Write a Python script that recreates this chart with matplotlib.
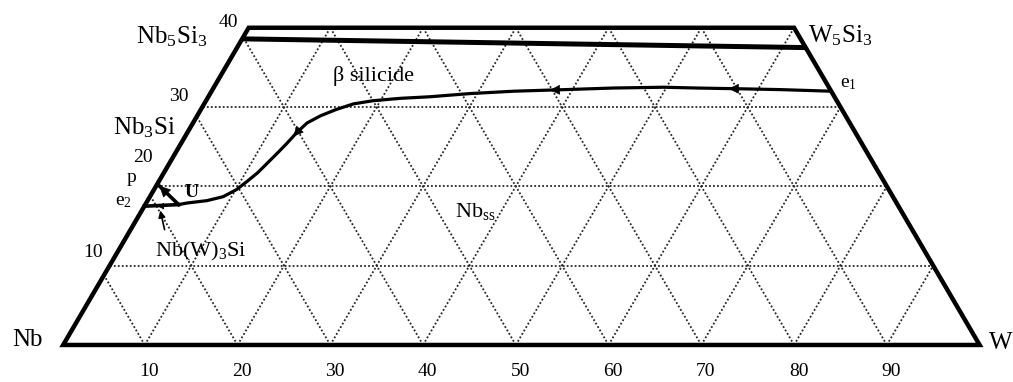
import matplotlib.pyplot as plt
from matplotlib.patches import Polygon
import numpy as np

plt.rcParams['font.family'] = ['Liberation Serif', 'DejaVu Serif']
plt.rcParams['mathtext.fontset'] = 'custom'
plt.rcParams['mathtext.rm'] = 'Liberation Serif'
plt.rcParams['mathtext.it'] = 'Liberation Serif:italic'
plt.rcParams['mathtext.default'] = 'regular'

# liquidus valley from e1 down to the U point (at.% W, at.% Si)
valley_w = [68.0, 62.4, 58.2, 53.3, 49.7, 44.3, 39.2, 33.8, 29.2, 25.1, 22.0,
            19.2, 17.3, 15.8, 14.5, 13.5, 13.0, 12.6, 12.2, 11.7, 11.3, 10.7,
            10.1, 9.1, 7.6, 5.6, 4.8]
valley_si = [32.0, 32.2, 32.3, 32.4, 32.5, 32.4, 32.2, 32.0, 31.7, 31.3, 31.1,
             30.8, 30.4, 29.7, 28.9, 28.0, 26.8, 25.4, 24.2, 22.8, 21.7, 20.6,
             19.6, 18.7, 18.2, 17.9, 17.7]
valley_arrows = [2, 6, 16]  # segments carrying a direction arrow

# Nb5Si3 - W5Si3 two phase line
tie_w = [1.2, 62.5]
tie_si = [38.6, 37.5]

# invariant points on the Nb-Si side
p_pt = (1.2, 20.3)
e2_pt = (1.2, 17.5)
u_pt = (4.8, 17.7)

edge_w = 1.2      # Nb-Si edge as drawn
si_top = 40
grid_steps = [10, 20, 30, 40, 50, 60, 70, 80, 90]
si_grid = [10, 20, 30]
w_ticks = [10, 20, 30, 40, 50, 60, 70, 80, 90]
si_ticks = [10, 20, 30, 40]


def tern(w, si):
    w = np.asarray(w, dtype=float)
    si = np.asarray(si, dtype=float)
    return w + si / 2, si


fig = plt.figure(figsize=(10.13, 3.82), dpi=100)
ax = fig.add_axes([0, 0, 1, 1])
ax.set_xlim(-5.61, 103.6)
ax.set_ylim(-4.67, 43.5)
ax.axis('off')

# outline of the partial section
ow = [edge_w, 100, 100 - si_top, edge_w]
osi = [0, 0, si_top, si_top]
ox, oy = tern(ow, osi)
outline = Polygon(np.column_stack([ox, oy]), closed=True, fill=False,
                  lw=3.2, ec='black', joinstyle='miter', zorder=5)
ax.add_patch(outline)

# dotted composition grid
grid_kw = dict(color='0.15', lw=1.3, linestyle=(0, (1, 1.2)), zorder=1)
for k in grid_steps:
    # constant W
    gx, gy = tern([k, k], [0, si_top])
    ln, = ax.plot(gx, gy, **grid_kw)
    ln.set_clip_path(outline)
    # constant Nb
    s = 100 - k
    gx, gy = tern([s, s - si_top], [0, si_top])
    ln, = ax.plot(gx, gy, **grid_kw)
    ln.set_clip_path(outline)
for s in si_grid:
    gx, gy = tern([0, 100 - s], [s, s])
    ln, = ax.plot(gx, gy, **grid_kw)
    ln.set_clip_path(outline)

# two phase line
tx, ty = tern(tie_w, tie_si)
ax.plot(tx, ty, color='black', lw=3.6, solid_capstyle='butt', zorder=4)

# valley curve with arrows
vx, vy = tern(valley_w, valley_si)
ax.plot(vx, vy, color='black', lw=2.3, solid_capstyle='round', zorder=4)
for i in valley_arrows:
    x0, y0 = vx[i], vy[i]
    x1, y1 = vx[i + 1], vy[i + 1]
    ax.annotate('', xy=(x0 + 0.35 * (x1 - x0), y0 + 0.35 * (y1 - y0)),
                xytext=(x0, y0),
                arrowprops=dict(arrowstyle='-|>', mutation_scale=16,
                                color='black', lw=0.5), zorder=6)

# U - p and U - e2 lines
for end in (p_pt, e2_pt):
    lx, ly = tern([u_pt[0], end[0]], [u_pt[1], end[1]])
    ax.plot(lx, ly, color='black', lw=2.6, zorder=4)
px_, py_ = tern(*p_pt)
ux, uy = tern(*u_pt)
ex, ey = tern(*e2_pt)
ax.annotate('', xy=(px_, py_), xytext=(px_ + 0.5 * (ux - px_), py_ + 0.5 * (uy - py_)),
            arrowprops=dict(arrowstyle='-|>', mutation_scale=18, color='black', lw=0.5),
            zorder=6)
ax.annotate('', xy=(ex + 0.3 * (ux - ex), ey), xytext=(ex + 0.7 * (ux - ex), ey),
            arrowprops=dict(arrowstyle='-|>', mutation_scale=10, color='black', lw=0.5),
            zorder=6)

# pointer to the Nb(W)3Si field
ax.annotate('', xy=(11.6, 17.3), xytext=(12.2, 14.2),
            arrowprops=dict(arrowstyle='-|>', mutation_scale=10, color='black', lw=1.2),
            zorder=6)

# labels
big = 18
mid = 16
small = 14
ax.text(-2.6, 0.6, 'Nb', fontsize=big, ha='center', va='center')
ax.text(101.0, 0.3, 'W', fontsize=big, ha='left', va='center')
ax.text(9.0, 38.0, 'Nb$_5$Si$_3$', fontsize=big, ha='left', va='baseline')
ax.text(81.5, 38.1, 'W$_5$Si$_3$', fontsize=big, ha='left', va='baseline')
ax.text(6.6, 26.5, 'Nb$_3$Si', fontsize=big, ha='left', va='baseline')
ax.text(30.3, 33.3, 'β silicide', fontsize=mid, ha='left', va='baseline')
ax.text(43.4, 16.1, 'Nb$_{ss}$', fontsize=mid, ha='left', va='baseline')
ax.text(11.1, 11.1, 'Nb(W)$_3$Si', fontsize=mid, ha='left', va='baseline')
ax.text(85.0, 32.5, 'e$_1$', fontsize=small, ha='left', va='baseline')
ax.text(6.8, 17.6, 'e$_2$', fontsize=small, ha='left', va='baseline')
ax.text(8.0, 20.6, 'p', fontsize=small, ha='left', va='baseline')
ax.text(14.3, 18.6, 'U', fontsize=small, fontweight='bold', ha='left', va='baseline')

# axis numbers
for w in w_ticks:
    ax.text(w + 0.5, -3.4, str(w), fontsize=small, ha='center', va='center')
si_label_pos = [(4.4, 11.6), (9.8, 23.7), (13.7, 31.3), (19.0, 40.7)]
for s, (lx, ly) in zip(si_ticks, si_label_pos):
    ax.text(lx, ly, str(s), fontsize=small, ha='center', va='center')

fig.savefig('out.png', dpi=100)
